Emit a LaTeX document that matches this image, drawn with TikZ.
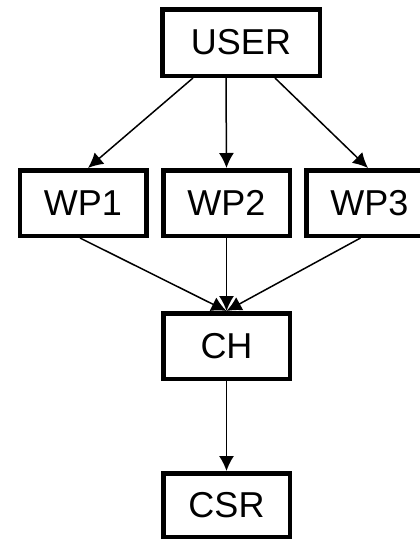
\documentclass[tikz,border=0pt]{standalone}
\usepackage{fontspec}
\setmainfont{Liberation Sans}
\usetikzlibrary{arrows.meta,positioning}

\begin{document}
\begin{tikzpicture}[x=1pt,y=1pt,>={Latex[length=15pt,width=15pt]},on grid,
        box/.style={draw,line width=4.5pt,minimum width=126.5pt,minimum height=65.5pt,
                    inner sep=0pt,font=\fontsize{36}{40}\selectfont}]
        \clip (0,0) rectangle (420,-539);
        \node[box,minimum width=157.5pt,minimum height=66.5pt] (user) at (241,-42.5) {USER};
        \node[box] (wp2) at (226.5,-203) {WP2};
        \node[box] (wp1) [left=143.5pt of wp2] {WP1};
        \node[box] (wp3) [right=143pt of wp2] {WP3};
        \node[box] (ch) [below=143pt of wp2] {CH};
        \node[box,minimum height=63.5pt] (csr) [below=159pt of ch] {CSR};
        \tikzset{every edge/.style={draw,line width=1.5pt}}
        \path   ([xshift=-48pt]user.south) edge[->] ([xshift=5pt]wp1.north)
                ([xshift=-15pt]user.south) edge[->] (wp2.north)
                ([xshift=34pt]user.south) edge[->] ([xshift=-1.5pt]wp3.north)
                ([xshift=-3pt]wp1.south) edge[->] (ch.north)
                (wp2.south) edge[->] (ch.north)
                ([xshift=-9pt]wp3.south) edge[->] (ch.north)
                (ch.south) edge[->] (csr.north);
    \end{tikzpicture}
\end{document}
